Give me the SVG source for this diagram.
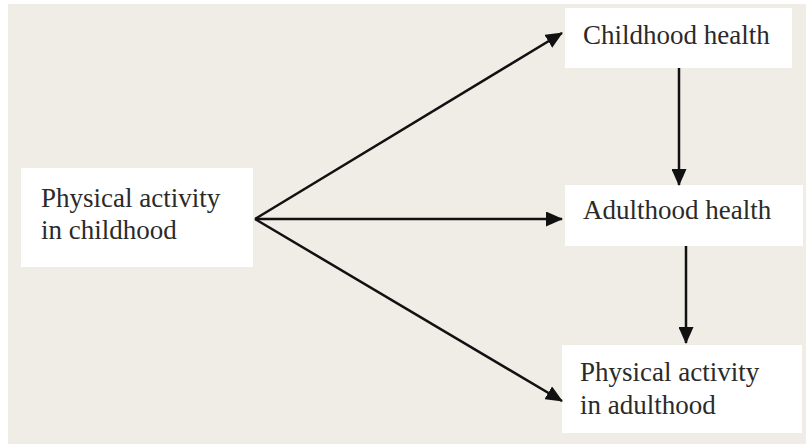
<svg xmlns="http://www.w3.org/2000/svg" width="806" height="444" viewBox="0 0 806 444">
  <style>
    .box { fill: #ffffff; }
    .label { font-family: "Liberation Serif", "Times New Roman", serif; font-size: 27px; fill: #2a2a2a; }
    .edge { stroke: #111111; stroke-width: 2.5; fill: none; }
  </style>
  <defs>
    <marker id="arrow" markerUnits="userSpaceOnUse" markerWidth="17" markerHeight="15" refX="16" refY="7.5" orient="auto">
      <path d="M0,0 L17,7.5 L0,15 Z" fill="#111111"/>
    </marker>
  </defs>
  <rect x="0" y="0" width="806" height="444" fill="#ffffff"/>
  <rect x="8" y="4" width="798" height="440" fill="#efede6"/>

  <g id="pa-childhood">
    <rect class="box" x="21" y="168" width="232" height="99"/>
    <text class="label" x="41" y="207">Physical activity</text>
    <text class="label" x="41" y="239">in childhood</text>
  </g>
  <g id="childhood-health">
    <rect class="box" x="565" y="8" width="227" height="60"/>
    <text class="label" x="583" y="44">Childhood health</text>
  </g>
  <g id="adulthood-health">
    <rect class="box" x="565" y="185" width="238" height="61"/>
    <text class="label" x="583" y="219">Adulthood health</text>
  </g>
  <g id="pa-adulthood">
    <rect class="box" x="562" y="345" width="240" height="88"/>
    <text class="label" x="580" y="381">Physical activity</text>
    <text class="label" x="580" y="414">in adulthood</text>
  </g>

  <g id="connectors">
    <line class="edge" x1="255" y1="219" x2="562" y2="33" marker-end="url(#arrow)"/>
    <line class="edge" x1="255" y1="219" x2="562" y2="219" marker-end="url(#arrow)"/>
    <line class="edge" x1="255" y1="219" x2="562" y2="401" marker-end="url(#arrow)"/>
    <line class="edge" x1="679" y1="68" x2="679" y2="185" marker-end="url(#arrow)"/>
    <line class="edge" x1="686" y1="246" x2="686" y2="343" marker-end="url(#arrow)"/>
  </g>
</svg>
